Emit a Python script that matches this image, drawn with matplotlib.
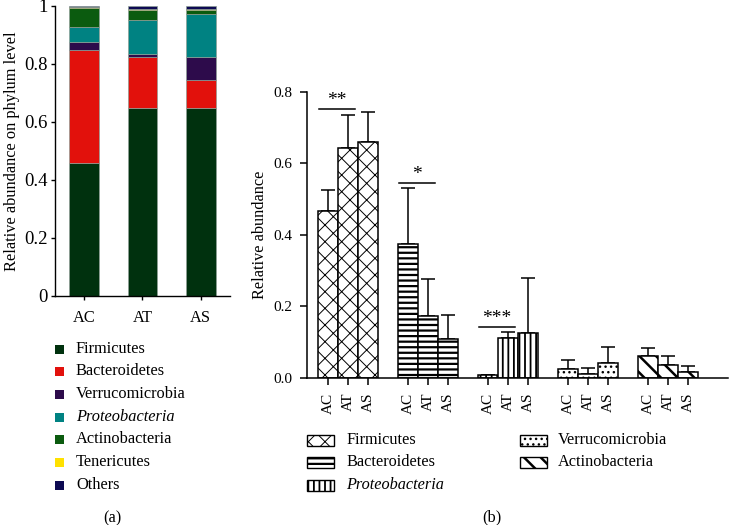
import matplotlib
matplotlib.use("Agg")
import matplotlib.pyplot as plt
import numpy as np
from matplotlib.patches import Rectangle

plt.rcParams['font.family'] = ['Liberation Serif', 'DejaVu Serif']

# ---------------- data: panel (a) ----------------
groups_a = ["AC", "AT", "AS"]
phyla_a = ["Firmicutes", "Bacteroidetes", "Verrucomicrobia", "Proteobacteria",
           "Actinobacteria", "Tenericutes", "Others"]
colors_a = ["#00310e", "#e2110c", "#2d0b4b", "#008282", "#0b5b0f", "#ffe100", "#0d0a52"]
firmicutes_a = [0.460, 0.648, 0.648]
bacteroidetes_a = [0.388, 0.177, 0.098]
verruco_a = [0.028, 0.011, 0.077]
proteo_a = [0.053, 0.116, 0.150]
actino_a = [0.064, 0.034, 0.014]
teneric_a = [0.003, 0.002, 0.004]
others_a = [0.004, 0.012, 0.009]
stack_a = [firmicutes_a, bacteroidetes_a, verruco_a, proteo_a, actino_a, teneric_a, others_a]
yticks_a = [0, 0.2, 0.4, 0.6, 0.8, 1]
yticklabels_a = ["0", "0.2", "0.4", "0.6", "0.8", "1"]

# ---------------- data: panel (b) ----------------
groups_b = ["AC", "AT", "AS"]
phyla_b = ["Firmicutes", "Bacteroidetes", "Proteobacteria", "Verrucomicrobia", "Actinobacteria"]
hatches_b = ["xx", "---", "|||", "...", "\\\\"]
means_b = [
    [0.468, 0.644, 0.661],
    [0.375, 0.173, 0.109],
    [0.0075, 0.113, 0.127],
    [0.025, 0.011, 0.042],
    [0.0625, 0.035, 0.018],
]
errs_b = [
    [0.057, 0.093, 0.083],
    [0.156, 0.103, 0.067],
    [0.0015, 0.016, 0.152],
    [0.025, 0.017, 0.045],
    [0.0225, 0.026, 0.016],
]
hatch_lw_b = [0.7, 1.6, 1.3, 1.0, 1.8]
# significance: (phylum index, from group, to group, y, label)
sig_b = [(0, 0, 1, 0.752, "**"), (1, 0, 1, 0.546, "*"), (2, 0, 1, 0.144, "***")]
yticks_b = [0.0, 0.2, 0.4, 0.6, 0.8]

fig = plt.figure(figsize=(7.39, 5.25), dpi=100)

# ================= panel (a) =================
axa = fig.add_axes([0.0744, 0.4362, 0.2368, 0.5524])
xa = np.arange(len(groups_a))
bottom = np.zeros(len(groups_a))
for vals, col in zip(stack_a, colors_a):
    axa.bar(xa, vals, width=0.51, bottom=bottom, color=col,
            edgecolor="#8f9f96", linewidth=0.5)
    bottom += np.array(vals)
axa.set_xlim(-0.5, 2.5)
axa.set_ylim(0, 1)
axa.set_yticks(yticks_a)
axa.set_yticklabels(yticklabels_a)
axa.set_xticks(xa)
axa.set_xticklabels(groups_a)
for s in ["top", "right"]:
    axa.spines[s].set_visible(False)
for s in ["left", "bottom"]:
    axa.spines[s].set_linewidth(1.0)
axa.tick_params(axis="y", labelsize=13.5, length=3, width=1.0, pad=2)
axa.tick_params(axis="x", labelsize=11.8, length=3, width=1.0, pad=7)
axa.set_ylabel("Relative abundance on phylum level", fontsize=11.8, labelpad=3)

# legend (a)
leg_y = [349, 371, 394, 417, 439, 462, 485]
for lab, col, yy in zip(phyla_a, colors_a, leg_y):
    fy = 1 - yy / 525
    fig.add_artist(Rectangle((55 / 739, fy - 4.5 / 525), 9 / 739, 9 / 525,
                             transform=fig.transFigure, facecolor=col, edgecolor="none"))
    fig.text(76 / 739, fy, lab, fontsize=11.8, va="center", ha="left",
             style="italic" if lab == "Proteobacteria" else "normal")
fig.text(112 / 739, 1 - 518 / 525, "(a)", fontsize=11.8, ha="center", va="center")

# ================= panel (b) =================
axb = fig.add_axes([0.4154, 0.28, 0.5697, 0.5448])
xtick_pos = []
xtick_lab = []
for gi, (name, h, m, e, hlw) in enumerate(zip(phyla_b, hatches_b, means_b, errs_b, hatch_lw_b)):
    pos = gi * 4 + np.arange(3)
    plt.rcParams['hatch.linewidth'] = hlw
    bars = axb.bar(pos, m, width=1.0, color="white", edgecolor="black",
                   linewidth=1.1, hatch=h, zorder=2)
    for b in bars:
        if hasattr(b, "set_hatch_linewidth"):
            b.set_hatch_linewidth(hlw)
    axb.errorbar(pos, m, yerr=[np.zeros(3), e], fmt="none", ecolor="black",
                 elinewidth=1.1, capsize=5, capthick=1.1, zorder=1)
    xtick_pos.extend(pos)
    xtick_lab.extend(groups_b)

for gi, g0, g1, yv, lab in sig_b:
    x0 = gi * 4 + g0 - 0.45
    x1 = gi * 4 + g1 + 0.35
    axb.plot([x0, x1], [yv, yv], color="black", lw=1.1)
    axb.annotate(lab, ((x0 + x1) / 2, yv), xytext=(0, 0), textcoords="offset points",
                 ha="center", va="bottom", fontsize=14)

axb.set_xlim(-1.05, 20)
axb.set_ylim(0, 0.8)
axb.set_yticks(yticks_b)
axb.set_yticklabels([f"{v:.1f}" for v in yticks_b])
axb.set_xticks(xtick_pos)
axb.set_xticklabels(xtick_lab, rotation=90)
for s in ["top", "right"]:
    axb.spines[s].set_visible(False)
for s in ["left", "bottom"]:
    axb.spines[s].set_linewidth(1.1)
axb.tick_params(axis="y", labelsize=11, length=5, width=1.1, pad=5.5)
axb.tick_params(axis="x", labelsize=11, length=5, width=1.1, pad=5.5)
axb.set_ylabel("Relative abundance", fontsize=11.7, labelpad=4)

# legend (b)
leg_b = [(0, 307, 346, 440), (1, 307, 346, 462), (2, 307, 346, 485),
         (3, 520, 558, 440), (4, 520, 558, 462)]
for idx, px, tx, yy in leg_b:
    fy = 1 - yy / 525
    plt.rcParams['hatch.linewidth'] = hatch_lw_b[idx]
    r = Rectangle((px / 739, fy - 5.5 / 525), 27 / 739, 11 / 525,
                  transform=fig.transFigure, facecolor="white", edgecolor="black",
                  linewidth=1.0, hatch=hatches_b[idx])
    if hasattr(r, "set_hatch_linewidth"):
        r.set_hatch_linewidth(hatch_lw_b[idx])
    fig.add_artist(r)
    fig.text(tx / 739, fy, phyla_b[idx], fontsize=11.7, va="center", ha="left",
             style="italic" if phyla_b[idx] == "Proteobacteria" else "normal")
fig.text(492 / 739, 1 - 517 / 525, "(b)", fontsize=11.8, ha="center", va="center")

fig.savefig("out.png", dpi=100)
